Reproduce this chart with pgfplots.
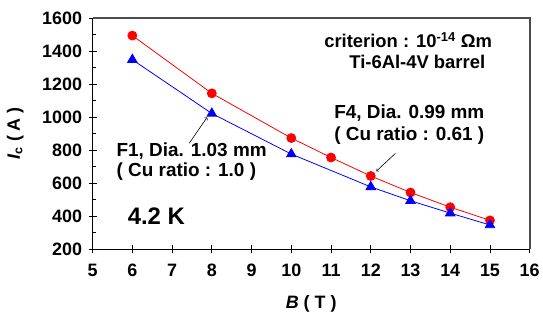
\documentclass[border=0pt]{standalone}
\usepackage{pgfplots}
\pgfplotsset{compat=1.18}
\usepackage{fontspec}
\setmainfont{Liberation Sans}
\newcommand{\tf}{\fontsize{18}{18}\selectfont\bfseries}
\begin{document}
\begin{tikzpicture}
\begin{axis}[
  scale only axis, width=439pt, height=232pt,
  xmin=5, xmax=16, ymin=200, ymax=1600,
  axis x line*=bottom, axis y line*=left,
  axis line style={black, line width=0.8pt},
  xtick={5,6,7,8,9,10,11,12,13,14,15,16}, ytick={200,400,600,800,1000,1200,1400,1600},
  xticklabels={5,6,7,8,9,10,11,12,13,14,15,16},
  yticklabels={200,400,600,800,1000,1200,1400,1600},
  minor y tick num=1, minor x tick num=0,
  tick align=center, major tick length=8pt, minor tick length=3pt,
  tick style={black, line width=0.8pt},
  minor tick style={xshift=1.5pt},
  xticklabel style={font=\tf, yshift=-8pt},
  yticklabel style={font=\tf, xshift=-3pt},
  xlabel={\textit{B} ( T )},
  ylabel={\textit{I}\textsubscript{c} ( A )},
  xlabel style={font=\tf, at={(axis description cs:0.5,-0.237)}, anchor=center},
  ylabel style={font=\tf, at={(axis description cs:-0.177,0.5)}, anchor=center},
  clip=false,
]
\addplot[red, line width=0.8pt, mark=*, mark size=4.5pt, mark options={solid, fill=red}]
  coordinates {(6,1493)(8,1143)(10,872)(11,754)(12,642)(13,542)(14,453)(15,373)};
\addplot[blue, line width=0.8pt, mark=triangle*, mark size=5.5pt, mark options={solid, fill=blue}]
  coordinates {(6,1347)(8,1021)(10,775)(12,576)(13,492)(14,417)(15,345)};
\draw[black!70, line width=1.6pt] (rel axis cs:0,1) -- (rel axis cs:1,1) -- (rel axis cs:1,0);
\draw[->, black, line width=0.6pt] (axis cs:7.43,840) -- (axis cs:7.88,997);
\draw[->, black, line width=0.6pt] (axis cs:12.62,779) -- (axis cs:12.14,671);
\node[font=\fontsize{18.5}{18.5}\selectfont\bfseries] at (axis cs:12.94,1467) {criterion : 10\textsuperscript{-14} Ωm};
\node[font=\fontsize{18.5}{18.5}\selectfont\bfseries] at (axis cs:13.17,1334) {Ti-6Al-4V barrel};
\node[font=\fontsize{19}{19}\selectfont\bfseries] at (axis cs:12.97,1021) {F4, Dia. 0.99 mm};
\node[font=\fontsize{19}{19}\selectfont\bfseries] at (axis cs:12.97,888) {( Cu ratio : 0.61 )};
\node[font=\fontsize{19}{19}\selectfont\bfseries, anchor=west, inner sep=0pt] at (axis cs:5.6,791) {F1, Dia. 1.03 mm};
\node[font=\fontsize{19}{19}\selectfont\bfseries, anchor=west, inner sep=0pt] at (axis cs:5.6,671) {( Cu ratio : 1.0 )};
\node[font=\fontsize{24}{24}\selectfont\bfseries, anchor=west, inner sep=0pt] at (axis cs:5.88,399) {4.2 K};
\end{axis}
\path[use as bounding box] (-93pt,-66pt) rectangle (450pt,250pt);
\end{tikzpicture}
\end{document}
